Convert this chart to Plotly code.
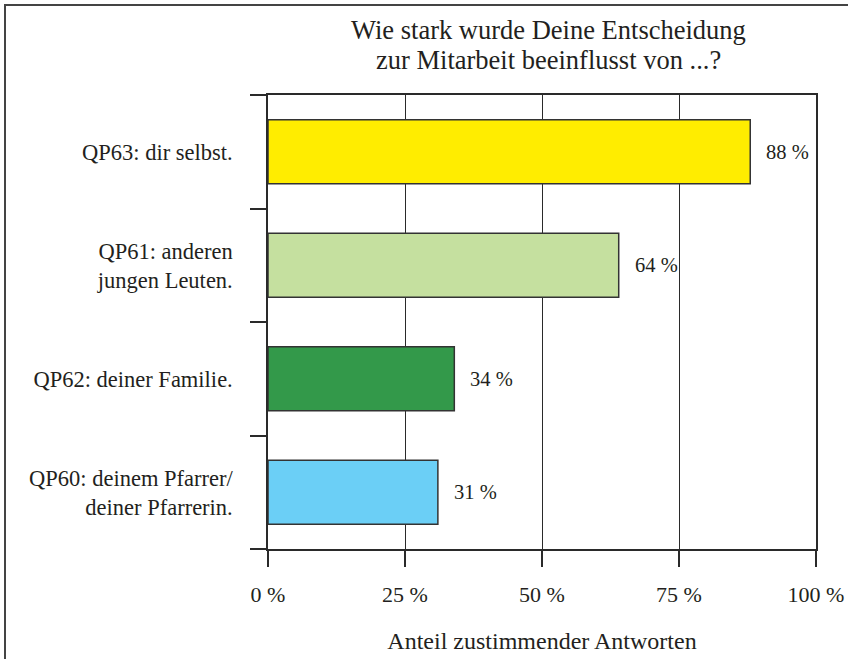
import plotly.graph_objects as go

categories = ["QP63: dir selbst.", "QP61: anderen<br>jungen Leuten.",
              "QP62: deiner Familie.", "QP60: deinem Pfarrer/<br>deiner Pfarrerin."]
values = [88, 64, 34, 31]
bar_colors = ["#FFED00", "#C5E09F", "#33994A", "#6BCFF6"]
x_tickvals = [0, 25, 50, 75, 100]
x_ticktext = ["0 %", "25 %", "50 %", "75 %", "100 %"]
title_lines = ["Wie stark wurde Deine Entscheidung", "zur Mitarbeit beeinflusst von ...?"]
x_title = "Anteil zustimmender Antworten"

FONT = "'Liberation Serif', 'Times New Roman', serif"
TXT = "#231F20"
LINE = "#2a2a2a"

fig = go.Figure()
fig.add_trace(go.Bar(
    x=values, y=categories, orientation="h",
    marker=dict(color=bar_colors, line=dict(color="#333333", width=1.5)),
    hoverinfo="skip",
))

for c, v in zip(categories, values):
    fig.add_annotation(x=v, y=c, text=f"{v} %", showarrow=False,
                       xanchor="left", xshift=14,
                       font=dict(family=FONT, size=20.5, color=TXT))

# title as two separately placed lines (tighter line spacing than plotly's default)
for i, line in enumerate(title_lines):
    fig.add_annotation(text=line, xref="paper", yref="paper",
                       x=(548 - 268) / 548, y=(549 - (30 + 30 * i)) / 454,
                       xanchor="center", yanchor="middle", showarrow=False,
                       font=dict(family=FONT, size=26.5, color=TXT))

fig.update_layout(
    width=848, height=659,
    margin=dict(l=268, r=32, t=95, b=110, autoexpand=False),
    paper_bgcolor="white", plot_bgcolor="white",
    showlegend=False,
    bargap=0.436,
    font=dict(family=FONT, color=TXT),
    xaxis=dict(range=[0, 100], tickvals=x_tickvals, ticktext=x_ticktext,
               ticks="outside", ticklen=16, tickwidth=1.5, tickcolor=LINE,
               showgrid=True, gridcolor=LINE, gridwidth=1,
               showline=True, linecolor=LINE, linewidth=1.5, mirror=True,
               zeroline=False, ticklabelstandoff=9, automargin=False,
               tickfont=dict(family=FONT, size=22, color=TXT),
               title=dict(text=x_title, standoff=26,
                          font=dict(family=FONT, size=24, color=TXT))),
    yaxis=dict(type="category", categoryorder="array",
               categoryarray=list(reversed(categories)),
               tickson="boundaries", ticks="outside", ticklen=16,
               tickwidth=1.5, tickcolor=LINE, automargin=False,
               showgrid=False, showline=True, linecolor=LINE, linewidth=1.5,
               mirror=True, zeroline=False, ticklabelstandoff=29,
               tickfont=dict(family=FONT, size=22.5, color=TXT)),
    shapes=[dict(type="rect", xref="paper", yref="paper",
                 x0=(5 - 268) / 548, x1=(870 - 268) / 548,
                 y0=(549 - 680) / 454, y1=(549 - 5) / 454,
                 line=dict(color="#444444", width=2), layer="below")],
)

fig.write_html("out.html", config={"displayModeBar": False},
               post_script="document.body.style.margin='0';document.body.style.overflow='hidden';")
